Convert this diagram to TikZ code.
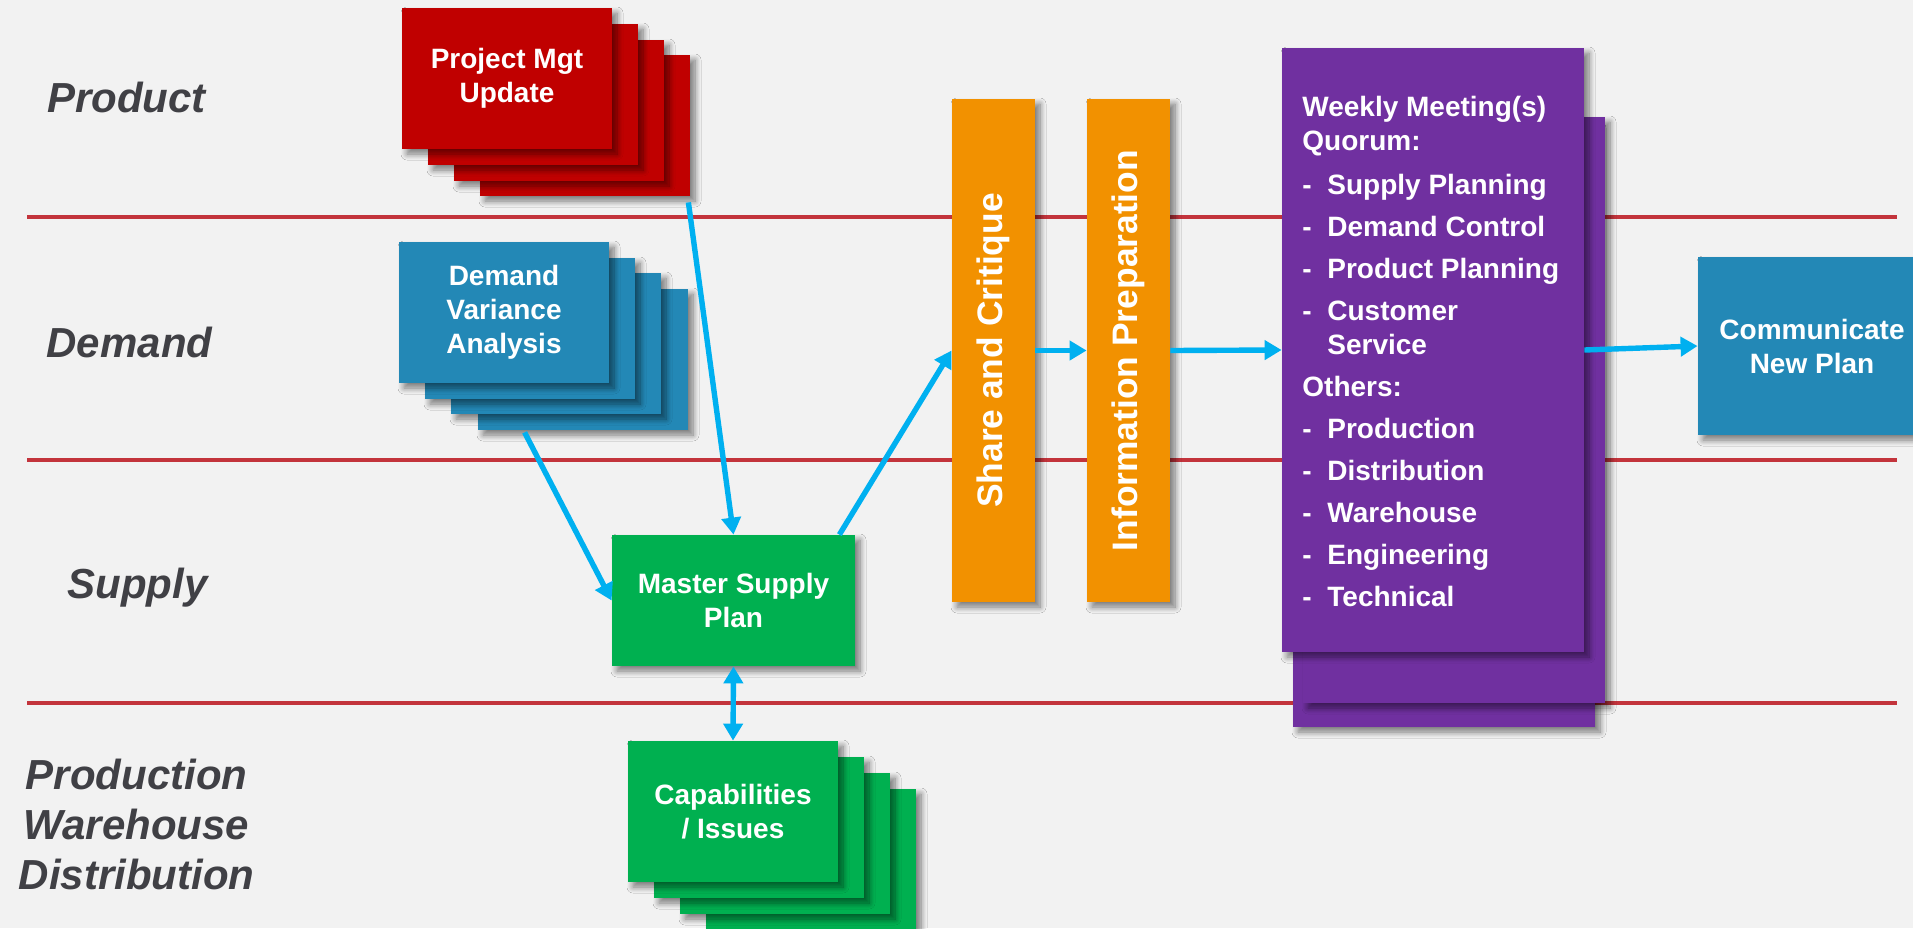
\documentclass[tikz,border=0pt]{standalone}
\usepackage{fontspec}
\setmainfont{Liberation Sans}
\usetikzlibrary{arrows.meta,shadows.blur,calc}

\definecolor{bg}{HTML}{F2F2F2}
\definecolor{laneline}{HTML}{C3343C}
\definecolor{lanetext}{HTML}{404045}
\definecolor{pmred}{HTML}{C00000}
\definecolor{dmblue}{HTML}{2388B6}
\definecolor{spgreen}{HTML}{00B050}
\definecolor{orng}{HTML}{F29100}
\definecolor{purp}{HTML}{7030A0}
\definecolor{flow}{HTML}{00B0F0}

% one bullet line of the meeting list: dash, then the entry
\newcommand{\dashitem}[1]{\makebox[12.5pt][l]{-}#1}

\begin{document}
\begin{tikzpicture}[x=0.5pt,y=-0.5pt,
  card/.style={inner sep=0pt, align=center, text=white,
    font=\bfseries\fontsize{14}{17}\selectfont,
    blur shadow={shadow xshift=2.5pt, shadow yshift=-2.5pt,
      shadow blur radius=3pt, shadow blur steps=8, shadow opacity=50}},
  stackcard/.style={card, minimum width=105pt, minimum height=70.5pt},
  redcard/.style={stackcard, fill=pmred},
  bluecard/.style={stackcard, fill=dmblue},
  greencard/.style={stackcard, fill=spgreen},
  stagecard/.style={card, fill=orng, minimum width=41.5pt, minimum height=251.5pt,
    font=\bfseries\fontsize{17.7}{21}\selectfont},
  meetcard/.style={card, fill=purp, minimum width=151pt},
  lanelabel/.style={inner sep=0pt, text=lanetext,
    font=\bfseries\itshape\fontsize{21}{25}\selectfont, align=center},
  lanerule/.style={draw=laneline, line width=1.6pt},
  flowarrow/.style={draw=flow, line width=2.7pt, -{Triangle[length=8.5pt,width=9.5pt]}},
  flowboth/.style={draw=flow, line width=2.7pt,
    {Triangle[length=8.5pt,width=9.5pt]}-{Triangle[length=8.5pt,width=9.5pt]}}
]
% page and background
\useasboundingbox (0,0) rectangle (1913,928);
\fill[bg] (0,0) rectangle (1913,928);

% swim-lane separators
\draw[lanerule] (27,217) -- (1897,217);
\draw[lanerule] (27,460) -- (1897,460);
\draw[lanerule] (27,703) -- (1897,703);

% lane titles
\node[lanelabel, anchor=base] (lnproduct) at (126.5,112) {Product};
\node[lanelabel, anchor=base] (lndemand) at (129.5,357) {Demand};
\node[lanelabel, anchor=base] (lnsupply) at (137.5,598) {Supply};
\node[lanelabel, anchor=center] (lnpwd) at (136.5,824.5) {Production\\Warehouse\\Distribution};

% project management updates (stack)
\node[redcard] (pm4) at (585,125.5) {};
\node[redcard] (pm3) at (559,110.5) {};
\node[redcard] (pm2) at (533,94.5) {};
\node[redcard] (pm1) at (507,78.5) {Project Mgt\\Update};

% demand variance analysis (stack)
\node[bluecard] (dv4) at (583,359.5) {};
\node[bluecard] (dv3) at (556,343.5) {};
\node[bluecard] (dv2) at (530,328.5) {};
\node[bluecard] (dv1) at (504,312.5) {Demand\\Variance\\Analysis};

% master supply plan
\node[card, fill=spgreen, minimum width=121.5pt, minimum height=65.5pt]
  (msp) at (733.5,600.5) {Master Supply\\Plan};

% capabilities / issues (stack)
\node[greencard] (cap4) at (811,859.5) {};
\node[greencard] (cap3) at (785,843.5) {};
\node[greencard] (cap2) at (759,827.5) {};
\node[greencard] (cap1) at (733,811.5) {Capabilities\\/ Issues};

% review stages
\node[stagecard] (share) at (993.5,350.5) {\rotatebox{90}{Share and Critique}};
\node[stagecard] (info) at (1128.5,350.5) {\rotatebox{90}{Information Preparation}};

% weekly meeting sheets
\node[meetcard, minimum height=302pt] (mtg3) at (1444,425) {};
\node[meetcard, minimum height=293pt] (mtg2) at (1454,410) {};
\node[meetcard, minimum height=302pt] (mtg) at (1433,350) {};
\node[inner sep=0pt, anchor=north west, align=left, text=white,
  font=\bfseries\fontsize{14}{17}\selectfont] (quorum) at (1302,96) {%
  Weekly Meeting(s)\\
  Quorum:\\[5pt]
  \dashitem{Supply Planning}\\[4pt]
  \dashitem{Demand Control}\\[4pt]
  \dashitem{Product Planning}\\[4pt]
  \dashitem{Customer}\\
  \hspace*{12.5pt}Service\\[4pt]
  Others:\\[4pt]
  \dashitem{Production}\\[4pt]
  \dashitem{Distribution}\\[4pt]
  \dashitem{Warehouse}\\[4pt]
  \dashitem{Engineering}\\[4pt]
  \dashitem{Technical}};

% communication of the plan
\node[card, fill=dmblue, minimum width=114pt, minimum height=89pt]
  (comm) at (1812,346) {Communicate\\New Plan};

% flow
\draw[flowarrow] ($(pm4.south east)+(-2,6)$) -- (msp.north);
\draw[flowarrow] ($(dv4.south west)+(47,2)$) -- (msp.west);
\draw[flowarrow] ($(msp.north east)+(-16,0)$) -- (share.west);
\draw[flowarrow] (share.east) -- (info.west);
\draw[flowarrow] (info.east) -- (mtg.west);
\draw[flowarrow] (mtg.east) -- (comm.west);
\draw[flowboth] (msp.south) -- (cap1.north);
\end{tikzpicture}
\end{document}
